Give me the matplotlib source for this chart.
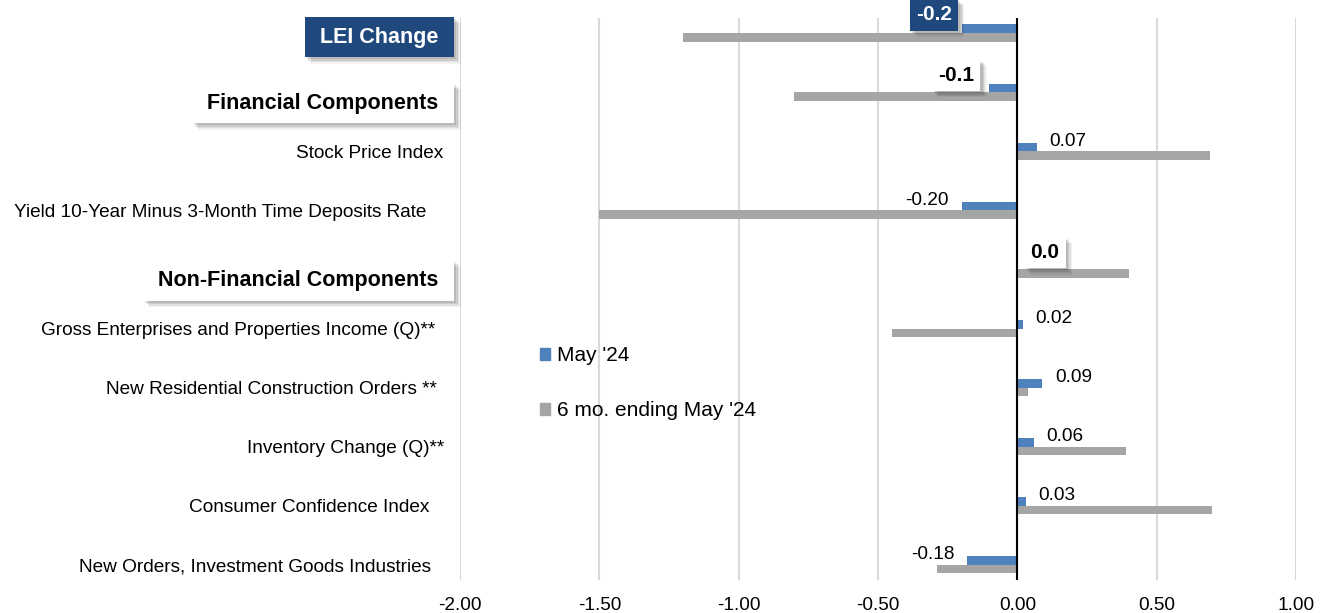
import matplotlib
matplotlib.use("Agg")
import matplotlib.pyplot as plt
import matplotlib.patheffects as pe
import matplotlib.transforms as mtransforms
from matplotlib.patches import Patch
import numpy as np

plt.rcParams['font.family'] = ['Liberation Sans', 'DejaVu Sans']

categories = ["LEI Change", "Financial Components", "Stock Price Index",
              "Yield 10-Year Minus 3-Month Time Deposits Rate",
              "Non-Financial Components",
              "Gross Enterprises and Properties Income (Q)**",
              "New Residential Construction Orders **",
              "Inventory Change (Q)**", "Consumer Confidence Index",
              "New Orders, Investment Goods Industries"]
header_rows = [0, 1, 4]
may24 = [-0.2, -0.1, 0.07, -0.20, 0.0, 0.02, 0.09, 0.06, 0.03, -0.18]
six_mo = [-1.2, -0.8, 0.69, -1.5, 0.40, -0.45, 0.04, 0.39, 0.70, -0.29]
xticks = [-2.0, -1.5, -1.0, -0.5, 0.0, 0.5, 1.0]
series_names = ["May '24", "6 mo. ending May '24"]

BLUE = "#4F81BD"
GRAY = "#A5A5A5"
NAVY = "#1F497D"
FS = 13.7

W, H = 1327, 613
fig = plt.figure(figsize=(W / 100, H / 100), dpi=100)
ax = fig.add_axes([460 / W, 1 - 580 / H, (1296 - 460) / W, (580 - 18) / H])

y = np.arange(len(categories))
bh = 0.145
ax.barh(y - bh / 2, may24, height=bh, color=BLUE, zorder=3)
ax.barh(y + bh / 2, six_mo, height=bh, color=GRAY, zorder=3)

ax.set_xlim(-2, 1)
ax.set_ylim(9.255, -0.254)
ax.set_xticks(xticks)
ax.set_xticklabels([f"{v:.2f}" for v in xticks], fontsize=FS)
ax.tick_params(axis='x', length=0, pad=12)
ax.grid(axis='x', color="#D9D9D9", linewidth=1.5, zorder=0)
ax.axvline(0, color="black", linewidth=1.5, zorder=4)
for s in ax.spines.values():
    s.set_visible(False)

ax.set_yticks(y)
ax.set_yticklabels(["" if i in header_rows else c for i, c in enumerate(categories)],
                   fontsize=FS)
ax.tick_params(axis='y', length=0)
label_pads = [12, 12, 12, 24, 12, 18, 16.5, 11, 22, 21]
for tk, p in zip(ax.yaxis.get_major_ticks(), label_pads):
    tk.set_pad(p)


def soft_shadow():
    effs = []
    for k, a in [(4.5, 0.05), (3.5, 0.07), (2.5, 0.09), (1.5, 0.09)]:
        effs.append(pe.SimplePatchShadow(offset=(k, -k), shadow_rgbFace='black', alpha=a))
    effs.append(pe.Normal())
    return effs


# header boxes
trans = mtransforms.blended_transform_factory(ax.transAxes, ax.transData)
hdr_specs = {0: (NAVY, "white", 3), 1: ("white", "black", 8), 4: ("white", "black", 8)}
for i in header_rows:
    fc, tc, dy = hdr_specs[i]
    t = ax.annotate(" " + categories[i] + " ", xy=(0, y[i]), xycoords=trans,
                    xytext=(-11, -dy), textcoords="offset points",
                    ha="right", va="center", fontsize=15.5, fontweight="bold",
                    color=tc, annotation_clip=False,
                    bbox=dict(boxstyle="square,pad=0.45", fc=fc, ec="none"))
    t.get_bbox_patch().set_path_effects(soft_shadow())

# bold value boxes for header rows
val_specs = {0: (NAVY, "white", -20, 10), 1: ("white", "black", -24, 9), 4: ("white", "black", 20, 9)}
for i in header_rows:
    fc, tc, dx, dy = val_specs[i]
    t = ax.annotate(f"{may24[i]:.1f}", xy=(may24[i], y[i] - bh / 2),
                    xytext=(dx, dy), textcoords="offset points",
                    ha="center", va="center", fontsize=15, fontweight="bold",
                    color=tc, annotation_clip=False, zorder=6,
                    bbox=dict(boxstyle="square,pad=0.3", fc=fc, ec="none"))
    t.get_bbox_patch().set_path_effects(soft_shadow())

# plain value labels
for i in range(len(categories)):
    if i in header_rows:
        continue
    v = may24[i]
    if v >= 0:
        ax.annotate(f"{v:.2f}", xy=(v, y[i] - bh / 2), xytext=(9, 1),
                    textcoords="offset points", ha="left", va="baseline",
                    fontsize=FS, zorder=5)
    else:
        ax.annotate(f"{v:.2f}", xy=(v, y[i] - bh / 2), xytext=(-9, 1),
                    textcoords="offset points", ha="right", va="baseline",
                    fontsize=FS, zorder=5)

handles = [Patch(color=BLUE), Patch(color=GRAY)]
fig.legend(handles, series_names, loc="upper left",
           bbox_to_anchor=(540 / W, 1 - 346 / H), frameon=False, fontsize=15,
           labelspacing=1.75, handlelength=0.5, handleheight=0.5,
           handletextpad=0.3, borderpad=0, borderaxespad=0)

fig.savefig("out.png", dpi=100)
